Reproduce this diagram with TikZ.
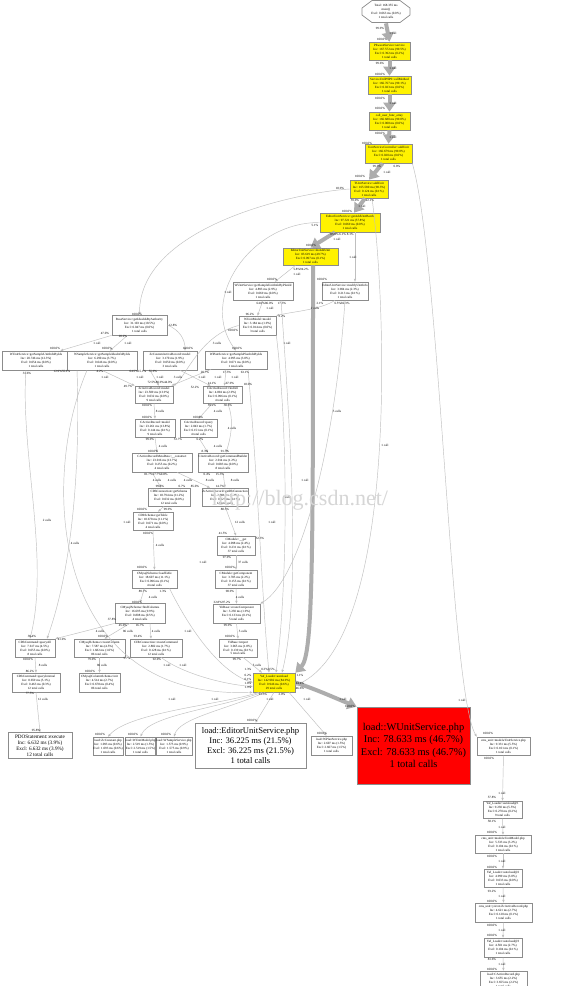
\documentclass[tikz,border=0pt]{standalone}
\usepackage{fontspec}
\setmainfont{Liberation Serif}
\usetikzlibrary{arrows.meta}
\newcommand\cgn[7][cg]{\node[#1,minimum width=#5pt,minimum height=#6pt] (#2) at (#3,#4) {#7};}
\begin{document}
\begin{tikzpicture}[x=1pt,y=-1pt,
  cg/.style={draw=black!45, line width=0.7pt, fill=white, inner sep=0.3pt, align=center, font=\fontsize{3.2}{3.95}\selectfont},
  hot/.style={cg, fill=yellow},
  lbl/.style={font=\fontsize{3.2}{3.8}\selectfont, inner sep=0pt},
  tedge/.style={draw=black!25, line width=0.45pt, -{Triangle[length=2.8pt,width=2.2pt]}},
  hedge/.style={draw=black!32, line width=4pt, -{Triangle[length=9pt,width=12pt]}},
]
\useasboundingbox (0,0) rectangle (577,986);
\fill[white] (0,0) rectangle (577,986);
\begin{scope}
\clip (0,0) rectangle (577,986);
% ---------- nodes ----------
\node[cg, draw=none, fill=none, minimum width=48pt, minimum height=23pt] (n0) at (386,11.5) {Total: 168.355 ms\\main()\\Excl: 0.063 ms (0.0\%)\\1 total calls};
\draw[draw=black!45, line width=0.7pt] (372,0.5) -- (400,0.5) -- (410,8) -- (410,15) -- (400,22.5) -- (372,22.5) -- (362,15) -- (362,8) -- cycle;
\cgn[hot]{n1}{389.5}{51}{41}{18}{PhwsonService::service\\Inc: 167.572 ms (99.5\%)\\Excl: 0.392 ms (0.2\%)\\1 total calls}
\cgn[hot]{n2}{389.5}{85}{43}{18}{ServiceUtilPHPS::callMethod\\Inc: 166.767 ms (99.1\%)\\Excl: 0.023 ms (0.0\%)\\1 total calls}
\cgn[hot]{n3}{389.5}{121}{41}{18}{call\_user\_func\_array\\Inc: 166.680 ms (99.0\%)\\Excl: 0.008 ms (0.0\%)\\1 total calls}
\cgn[hot]{n4}{388.5}{153.5}{47}{19}{UnitServiceController::addUnit\\Inc: 166.679 ms (99.0\%)\\Excl: 0.020 ms (0.0\%)\\1 total calls}
\cgn[hot]{n5}{369}{189}{38}{18}{TUnitService::addUnit\\Inc: 165.580 ms (98.3\%)\\Excl: 0.124 ms (0.1\%)\\1 total calls}
\cgn[hot]{n6}{350}{222.5}{60}{19}{EditorUnitService::getAddUnitBatch\\Inc: 97.321 ms (57.8\%)\\Excl: 0.069 ms (0.0\%)\\1 total calls}
\cgn[hot]{n7}{310.5}{256.5}{55}{17}{EditorUnitService::doAddUnit\\Inc: 83.619 ms (49.7\%)\\Excl: 0.097 ms (0.1\%)\\1 total calls}
\cgn{n8}{263}{291}{60}{18}{WUnitService::getSampleUnitInfoByPlanId\\Inc: 4.893 ms (2.9\%)\\Excl: 0.069 ms (0.0\%)\\1 total calls}
\cgn{n9}{345}{291}{46}{18}{EditorUnitService::modifyUnitInfo\\Inc: 3.904 ms (2.3\%)\\Excl: 0.213 ms (0.1\%)\\1 total calls}
\cgn{n10}{257.5}{325.5}{37}{19}{WUnitModel::model\\Inc: 3.184 ms (1.9\%)\\Excl: 0.014 ms (0.0\%)\\3 total calls}
\cgn{n11}{139.5}{325}{55}{20}{BaseService::getIdeaIdsByAuthority\\Inc: 31.103 ms (18.5\%)\\Excl: 0.047 ms (0.0\%)\\1 total calls}
\cgn{n12}{36}{360.5}{68}{19}{WUnitService::getSampleUnitInfoByIds\\Inc: 20.746 ms (12.3\%)\\Excl: 0.054 ms (0.0\%)\\1 total calls}
\cgn{n13}{102}{360.5}{70}{19}{WSampleService::getSampleIdeaInfoByIds\\Inc: 6.290 ms (3.7\%)\\Excl: 0.046 ms (0.0\%)\\1 total calls}
\cgn{n14}{170}{360.5}{54}{19}{ZcCustomActiveRecord::model\\Inc: 3.170 ms (1.9\%)\\Excl: 0.050 ms (0.0\%)\\3 total calls}
\cgn{n15}{236}{360}{62}{18}{WPlanService::getSamplePlanInfoByIds\\Inc: 4.995 ms (3.0\%)\\Excl: 0.071 ms (0.0\%)\\1 total calls}
\cgn{n16}{154}{394.5}{38}{17}{ZcActiveRecord::model\\Inc: 23.509 ms (13.9\%)\\Excl: 0.032 ms (0.0\%)\\9 total calls}
\cgn{n17}{222.5}{394.5}{39}{17}{CActiveRecord::findAll\\Inc: 4.894 ms (2.9\%)\\Excl: 0.096 ms (0.1\%)\\4 total calls}
\cgn{n18}{155}{428}{40}{18}{CActiveRecord::model\\Inc: 23.261 ms (13.8\%)\\Excl: 0.144 ms (0.1\%)\\9 total calls}
\cgn{n19}{198.5}{428}{37}{18}{CActiveRecord::query\\Inc: 2.843 ms (1.7\%)\\Excl: 0.151 ms (0.1\%)\\4 total calls}
\cgn{n20}{162}{462.5}{60}{19}{CActiveRecordMetaData::\_\_construct\\Inc: 23.016 ms (13.7\%)\\Excl: 0.255 ms (0.2\%)\\4 total calls}
\cgn{n21}{223}{462.5}{50}{19}{CActiveRecord::getCommandBuilder\\Inc: 2.014 ms (1.2\%)\\Excl: 0.083 ms (0.0\%)\\8 total calls}
\cgn{n22}{169}{497}{42}{18}{CDbConnection::getSchema\\Inc: 18.794 ms (11.2\%)\\Excl: 0.032 ms (0.0\%)\\12 total calls}
\cgn{n23}{225}{497}{46}{18}{ZcActiveRecord::getDbConnection\\Inc: 2.084 ms (1.2\%)\\Excl: 0.127 ms (0.1\%)\\12 total calls}
\cgn{n24}{153}{521}{40}{18}{CDbSchema::getTable\\Inc: 18.678 ms (11.1\%)\\Excl: 0.071 ms (0.0\%)\\4 total calls}
\cgn{n25}{236}{545.5}{38}{19}{CModule::\_\_get\\Inc: 4.098 ms (2.4\%)\\Excl: 0.231 ms (0.1\%)\\37 total calls}
\cgn{n26}{154.5}{579}{45}{18}{CMysqlSchema::loadTable\\Inc: 18.607 ms (11.1\%)\\Excl: 0.096 ms (0.1\%)\\4 total calls}
\cgn{n27}{236}{579}{42}{18}{CModule::getComponent\\Inc: 3.785 ms (2.2\%)\\Excl: 0.155 ms (0.1\%)\\37 total calls}
\cgn{n28}{140}{613}{50}{20}{CMysqlSchema::findColumns\\Inc: 16.695 ms (9.9\%)\\Excl: 0.808 ms (0.5\%)\\4 total calls}
\cgn{n29}{236.5}{613.5}{47}{19}{YiiBase::createComponent\\Inc: 3.230 ms (1.9\%)\\Excl: 0.133 ms (0.1\%)\\5 total calls}
\cgn{n30}{35}{648}{40}{18}{CDbCommand::queryAll\\Inc: 7.617 ms (4.5\%)\\Excl: 0.055 ms (0.0\%)\\8 total calls}
\cgn{n31}{99.5}{648}{51}{18}{CMysqlSchema::createColumn\\Inc: 7.587 ms (4.5\%)\\Excl: 1.682 ms (1.0\%)\\86 total calls}
\cgn{n32}{156}{648}{52}{18}{CDbConnection::createCommand\\Inc: 2.802 ms (1.7\%)\\Excl: 0.128 ms (0.1\%)\\12 total calls}
\cgn{n33}{238}{648}{38}{18}{YiiBase::import\\Inc: 3.065 ms (1.8\%)\\Excl: 0.139 ms (0.1\%)\\5 total calls}
\cgn{n34}{36}{682.5}{48}{19}{CDbCommand::queryInternal\\Inc: 8.659 ms (5.1\%)\\Excl: 0.463 ms (0.3\%)\\12 total calls}
\cgn{n35}{99.5}{682.5}{41}{19}{CMysqlColumnSchema::init\\Inc: 4.514 ms (2.7\%)\\Excl: 0.678 ms (0.4\%)\\86 total calls}
\cgn[hot]{n36}{274}{682.5}{42}{19}{Yaf\_Loader::autoload\\Inc: 142.982 ms (84.9\%)\\Excl: 0.946 ms (0.6\%)\\29 total calls}
\cgn[cg,font=\fontsize{5.2}{6}\selectfont]{n37}{40}{745.5}{64}{26}{PDOStatement::execute\\Inc: 6.632 ms (3.9\%)\\Excl: 6.632 ms (3.9\%)\\12 total calls}
\cgn{n38}{108}{746}{30}{18}{load::ZcConstant.php\\Inc: 1.093 ms (0.6\%)\\Excl: 1.093 ms (0.6\%)\\1 total calls}
\cgn{n39}{140.5}{746}{30}{18}{load::WUnitModel.php\\Inc: 2.519 ms (1.5\%)\\Excl: 2.519 ms (1.5\%)\\1 total calls}
\cgn{n40}{174}{746}{30}{18}{load::WSampleService.php\\Inc: 1.575 ms (0.9\%)\\Excl: 1.575 ms (0.9\%)\\1 total calls}
\cgn[cg,font=\fontsize{8.6}{10.2}\selectfont]{n41}{250.5}{745.5}{111}{45}{load::EditorUnitService.php\\Inc: 36.225 ms (21.5\%)\\Excl: 36.225 ms (21.5\%)\\1 total calls}
\cgn{n42}{331.5}{745.5}{41}{19}{load::WPlanService.php\\Inc: 2.607 ms (1.5\%)\\Excl: 2.607 ms (1.5\%)\\1 total calls}
\cgn[cg,fill=red,font=\fontsize{10.4}{12.3}\selectfont]{n43}{413.5}{745.5}{113}{77}{load::WUnitService.php\\Inc: 78.633 ms (46.7\%)\\Excl: 78.633 ms (46.7\%)\\1 total calls}
\cgn{n44}{503.5}{746}{53}{18}{cms\_unit::models/UnitService.php\\Inc: 9.331 ms (5.5\%)\\Excl: 0.101 ms (0.1\%)\\1 total calls}
\cgn{n45}{502.5}{809.5}{39}{17}{Yaf\_Loader::autoload@1\\Inc: 9.230 ms (5.5\%)\\Excl: 0.270 ms (0.2\%)\\9 total calls}
\cgn{n46}{503}{844}{56}{18}{cms\_unit::models/UnitModel.php\\Inc: 5.333 ms (3.2\%)\\Excl: 0.104 ms (0.1\%)\\1 total calls}
\cgn{n47}{503}{878}{38}{18}{Yaf\_Loader::autoload@2\\Inc: 4.999 ms (3.0\%)\\Excl: 0.033 ms (0.0\%)\\1 total calls}
\cgn{n48}{503.5}{912.5}{57}{19}{cms\_unit::yii/ext/ZcActiveRecord.php\\Inc: 4.621 ms (2.7\%)\\Excl: 0.120 ms (0.1\%)\\1 total calls}
\cgn{n49}{503}{947.5}{38}{19}{Yaf\_Loader::autoload@3\\Inc: 4.501 ms (2.7\%)\\Excl: 0.104 ms (0.1\%)\\1 total calls}
\cgn{n50}{503.5}{980}{47}{18}{load::CActiveRecord.php\\Inc: 3.655 ms (2.2\%)\\Excl: 3.655 ms (2.2\%)\\1 total calls}
% ---------- thick edges ----------
\draw[hedge] (n0.south) -- (n1.north);
\draw[hedge] (n1.south) -- (n2.north);
\draw[hedge] (n2.south) -- (n3.north);
\draw[hedge] (n3.south) -- (n4.north);
\draw[hedge] ([xshift=-6pt]n4.south) -- (n5.north);
\draw[hedge] ([xshift=-4pt]n5.south) -- ([xshift=4pt]n6.north);
\draw[hedge] ([xshift=-15pt]n6.south) -- (n7.north);
\draw[hedge] ([xshift=2.5pt]n7.south) .. controls (313,560) and (313,655) .. (n36.north east);
\draw[hedge] (n36.east) .. controls (318,690) and (335,698) .. (n43.north west);
% ---------- thin edges ----------
\draw[tedge] (n4.south east) .. controls (440,260) and (450,690) .. (n44.north west);
\draw[tedge] (n5.west) .. controls (300,192) and (140,225) .. (n11.north);
\draw[tedge] ([xshift=3pt]n5.south) .. controls (386,300) and (400,640) .. ([yshift=-3pt]n36.east);
\draw[tedge] ([xshift=5pt]n6.south) -- ([xshift=10pt]n9.north);
\draw[tedge] (n6.west) .. controls (250,222) and (198,300) .. (n15.north);
\draw[tedge] ([xshift=-15pt]n7.south) -- ([xshift=12pt]n8.north);
\draw[tedge] (n8.south) -- (n10.north);
\draw[tedge] ([xshift=18pt]n8.south) .. controls (292,450) and (300,600) .. ([xshift=8pt]n36.north);
\draw[tedge] ([xshift=-10pt]n9.south) .. controls (320,310) and (290,312) .. (n10.north east);
\draw[tedge] (n9.south) .. controls (335,450) and (300,580) .. (n29.north east);
\draw[tedge] (n10.south east) .. controls (290,450) and (286,600) .. ([xshift=2pt]n36.north);
\draw[tedge] (n10.west) .. controls (200,335) and (185,378) .. (n16.north east);
\draw[tedge] (n11.south west) -- ([xshift=-10pt]n12.north east);
\draw[tedge] ([xshift=-12pt]n11.south) -- ([xshift=8pt]n13.north);
\draw[tedge] (n11.east) .. controls (180,330) and (185,340) .. ([xshift=15pt]n14.north);
\draw[tedge] ([xshift=-10pt]n12.south) .. controls (20,450) and (50,560) .. ([xshift=-5pt]n30.north);
\draw[tedge] ([xshift=-25pt]n13.south) .. controls (80,450) and (75,560) .. ([xshift=12pt]n30.north);
\draw[tedge] ([xshift=-15pt]n13.south) .. controls (40,480) and (50,700) .. (n36.south west);
\draw[tedge] (n13.south) -- (n16.north west);
\draw[tedge] ([xshift=-20pt]n14.south) -- ([xshift=5pt]n16.north);
\draw[tedge] ([xshift=10pt]n14.south) -- ([xshift=-12pt]n17.north);
\draw[tedge] ([xshift=-10pt]n15.south) -- ([xshift=2pt]n17.north);
\draw[tedge] ([xshift=-25pt]n15.south) -- ([xshift=-2pt]n16.north east);
\draw[tedge] ([xshift=12pt]n15.south) .. controls (258,480) and (262,600) .. ([xshift=-5pt]n36.north);
\draw[tedge] (n16.south) -- (n18.north);
\draw[tedge] ([xshift=-10pt]n17.south) -- (n19.north);
\draw[tedge] ([xshift=5pt]n17.south) .. controls (235,420) and (230,440) .. ([xshift=3pt]n21.north);
\draw[tedge] (n18.south) -- ([xshift=-5pt]n20.north);
\draw[tedge] (n19.south) -- ([xshift=-15pt]n21.north);
\draw[tedge] ([xshift=-10pt]n20.south) -- ([xshift=-8pt]n22.north);
\draw[tedge] ([xshift=15pt]n20.south) -- ([xshift=-15pt]n23.north);
\draw[tedge] (n21.south) -- (n23.north);
\draw[tedge] ([xshift=-5pt]n22.south) -- ([xshift=5pt]n24.north);
\draw[tedge] (n23.south) -- (n25.north);
\draw[tedge] (n24.south) -- (n26.north);
\draw[tedge] (n25.south) -- (n27.north);
\draw[tedge] ([xshift=-10pt]n26.south) -- (n28.north);
\draw[tedge] ([xshift=15pt]n26.south) .. controls (190,630) and (220,672) .. (n36.west);
\draw[tedge] (n27.south) -- (n29.north);
\draw[tedge] (n29.south) -- (n33.north);
\draw[tedge] ([xshift=5pt]n33.south) -- ([xshift=-12pt]n36.north);
\draw[tedge] (n28.south west) .. controls (90,630) and (70,635) .. (n30.north east);
\draw[tedge] ([xshift=-10pt]n28.south) -- ([xshift=5pt]n31.north);
\draw[tedge] ([xshift=10pt]n28.south) -- ([xshift=-5pt]n32.north);
\draw[tedge] (n30.south) -- (n34.north);
\draw[tedge] (n31.south) -- (n35.north);
\draw[tedge] ([xshift=5pt]n32.south) .. controls (180,672) and (220,684) .. ([yshift=-4pt]n36.west);
\draw[tedge] (n34.south) -- (n37.north);
\draw[tedge] ([xshift=-15pt]n36.south) .. controls (220,705) and (130,712) .. (n38.north);
\draw[tedge] ([xshift=-12pt]n36.south) .. controls (220,708) and (150,715) .. (n39.north);
\draw[tedge] ([xshift=-9pt]n36.south) .. controls (225,710) and (180,718) .. (n40.north);
\draw[tedge] (n36.south) -- ([xshift=5pt]n41.north);
\draw[tedge] ([xshift=15pt]n36.south) -- ([xshift=-5pt]n42.north);
\draw[tedge] (n44.south) -- (n45.north);
\draw[tedge] (n45.south) -- (n46.north);
\draw[tedge] (n46.south) -- (n47.north);
\draw[tedge] (n47.south) -- (n48.north);
\draw[tedge] (n48.south) -- (n49.north);
\draw[tedge] (n49.south) -- (n50.north);
% ---------- edge labels ----------
\foreach \lx/\ly/\lt [count=\k] in {
380/28/99.9\%, 393/33/1 call, 382/39/100.0\%,
380/63/99.6\%, 393/68/1 call, 380/74/100.0\%,
380/98/100.0\%, 393/103/1 call, 380/108/100.0\%,
380/133/100.0\%, 393/137/1 call, 367/143/100.0\%,
377/166/99.3\%, 397/166/0.8\%, 387/172/1 call, 360/176/100.0\%,
340/188/18.9\%, 355/200/59.0\%, 370/200/22.1\%, 362/206/1 call, 347/211/100.0\%,
315/225/5.1\%, 342/234/85.9\% 6.1\% 8.1\%, 337/239/1 call, 311/245/100.0\%, 353/257/1 call,
301/269/5.8\%94.2\%, 297/274/1 call, 272/279/100.0\%, 322/279/100.0\%, 228/292/1 call,
265/303/64.0\%86.0\%, 282/303/17.3\%, 270/308/1 call, 320/303/2.1\%, 342/303/6.5\%82.3\%, 315/308/2 calls,
250/314/96.2\%, 282/316/2.2\%, 233/330/100.0\%, 137/314/100.0\%, 173/325/12.8\%,
105/333/47.0\%, 123/336/20.2\%, 97/343/1 call, 128/343/1 call, 217/343/3 calls, 287/343/1 call,
55/348/100.0\%, 107/348/100.0\%, 188/348/100.0\%, 237/348/100.0\%,
27/373/31.6\%, 62/371/12.9\%55.9\%, 100/371/4.2\%, 138/371/64.5\%15.1\%, 153/371/55.9\%,
205/372/20.7\%, 227/372/17.3\%, 245/372/63.1\%,
105/377/1 call, 140/377/1 call, 160/377/1 call, 178/377/3 calls, 202/377/1 call, 218/377/1 call, 235/377/1 call,
212/383/14.1\%, 230/383/67.9\%, 248/384/18.0\%, 160/382/72.5\%80.9\%44.0\%, 128/386/49.7\%, 195/387/52.2\%,
147/405/100.0\%, 212/405/59.2\%, 228/405/30.5\%, 160/411/8 calls, 218/411/4 calls, 337/411/5 calls,
147/417/100.0\%, 198/417/100.0\%, 232/428/4 calls, 385/445/1 call,
150/439/99.9\%, 178/439/53.7\%, 200/439/6.2\%, 163/446/4 calls, 218/446/4 calls,
153/451/100.0\%, 205/451/8.3\%, 225/451/91.7\%,
156/474/81.7\%17.7\%0.8\%, 207/474/0.4\%, 220/474/15.3\%,
157/480/4 calls, 172/480/4 calls, 188/480/4 calls, 210/480/8 calls, 235/480/8 calls, 305/480/1 call,
160/486/99.3\%, 182/486/0.7\%, 195/486/85.0\%, 220/486/14.7\%, 287/497/2 calls,
168/509/99.9\%, 225/509.5/88.3\%, 142/509/100.0\%,
127/522/1 call, 240/522/12 calls, 272/522/1 call, 47/520/2 calls,
223/533/41.5\%, 148/533/100.0\%, 260/538/52.3\%, 75/543/4 calls, 160/545/4 calls,
227/557/97.9\%, 203/562/1 call, 243/562/37 calls, 142/567/100.0\%, 230/567/100.0\%,
143/591/89.7\%, 163/591/1.3\%, 230/591/98.9\%, 153/597/4 calls, 240/597/4 calls,
137/602/100.0\%, 222/602/32.8\%97.2\%,
112/619/37.8\%, 123/625/45.0\%, 140/625/16.7\%, 228/625/99.9\%,
100/631/4 calls, 128/631/86 calls, 156/631/4 calls, 188/631/1 call, 243/631/5 calls,
32/636/39.4\%, 62/639/41.0\%, 103/636/100.0\%, 138/636/93.4\%, 230/636/100.0\%,
28/659/100.0\%, 92/659/79.0\%, 127/658/5.7\%, 157/659/92.0\%, 237/659/99.7\%,
43/665/8 calls, 102/665/86 calls, 167/665/1 call, 183/665/1 call, 257/665/5 calls,
30/671/86.2\%, 90/671/100.0\%, 248/669/1.3\%, 268/669/0.3\%0.5\%,
248/675/0.2\%, 248/679/0.1\%, 248/683/1.8\%, 248/687/1.9\%,
300/675/1.1\%, 300/683/44.4\%, 300/688/46.6\%,
30/693/77.5\%, 263/694/23.3\%, 282/694/2.0\%,
43/699/12 calls, 172/699/1 call, 215/699/1 call, 270/699/1 call, 307/699/1 call, 343/699/1 call, 462/700/1 call,
350/706/100.0\%, 252/720/100.0\%, 322/733/100.0\%, 36/730/95.8\%,
100/734/100.0\%, 133/734/100.0\%, 166/734/100.0\%,
488/733/100.0\%, 489/758/100.0\%,
502/793/1 call, 492/797/57.8\%, 492/821/58.1\%, 502/827/1 call, 492/832/100.0\%,
492/856/100.0\%, 502/861/1 call, 492/867/100.0\%, 492/891/93.2\%, 502/896/1 call, 492/901/100.0\%,
492/925/100.0\%, 502/930/1 call, 492/935/100.0\%, 492/959/81.6\%, 502/964/1 call, 492/969/100.0\%}
  \node[lbl] (L\k) at (\lx,\ly) {\lt};
% ---------- watermark ----------
\node[font=\fontsize{22}{22}\selectfont, text=black!16, inner sep=0pt] (wm) at (300,500) {http://blog.csdn.net/};
\end{scope}
\end{tikzpicture}
\end{document}
